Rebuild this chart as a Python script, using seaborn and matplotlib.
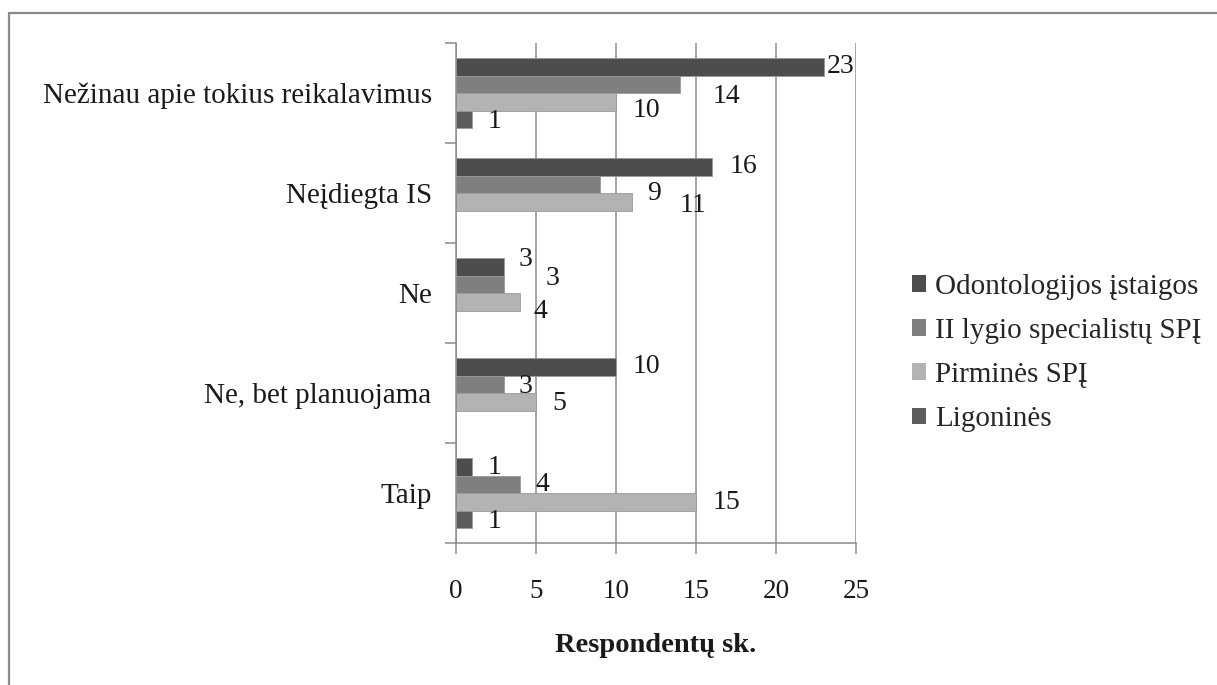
import numpy as np
import pandas as pd
import matplotlib
matplotlib.use("Agg")
import matplotlib.pyplot as plt
from matplotlib.lines import Line2D
from matplotlib.patches import Patch
import seaborn as sns

# ---- data ----
categories = ["Nežinau apie tokius reikalavimus", "Neįdiegta IS", "Ne",
              "Ne, bet planuojama", "Taip"]
series = ["Odontologijos įstaigos", "II lygio specialistų SPĮ",
          "Pirminės SPĮ", "Ligoninės"]
odontologijos = [23, 16, 3, 10, 1]
ii_lygio = [14, 9, 3, 3, 4]
pirmines = [10, 11, 4, 5, 15]
ligonines = [1, None, None, None, 1]
x_ticks = [0, 5, 10, 15, 20, 25]
x_title = "Respondentų sk."

values = [odontologijos, ii_lygio, pirmines, ligonines]
colors = ["#4d4d4d", "#7f7f7f", "#b3b3b3", "#5c5c5c"]

# label placement (pixels: gap after bar end, downward shift), per series/category
label_nudge = [
    [(3, 0), (18, 0), (15, -7), (17, 0), (16, 1)],
    [(33, 12), (47, 9), (42, -6), (15, 2), (15, 0)],
    [(17, 9), (48, 4), (13, 10), (16, 2), (17, 1)],
    [(16, 2), (0, 0), (0, 0), (0, 0), (16, 2)],
]

rows = []
for s, vals in zip(series, values):
    for c, v in zip(categories, vals):
        rows.append({"category": c, "series": s,
                     "value": np.nan if v is None else v})
df = pd.DataFrame(rows)

sns.set_theme(style="white")
plt.rcParams["font.family"] = ["Liberation Serif", "DejaVu Serif"]
FS = 21          # category and legend text
FS_TITLE = 20.5  # axis title
FS_TICK = 19.5   # numeric axis ticks
FS_VAL = 20      # bar value labels
TXT = "#1a1a1a"
GRID = "#8c8c8c"

W, H = 1217, 685
fig = plt.figure(figsize=(W / 100, H / 100), dpi=100)
ax = fig.add_axes([456 / W, 1 - 543 / H, 400 / W, 500 / H])

sns.barplot(data=df, y="category", x="value", hue="series",
            order=categories, hue_order=series, palette=colors,
            orient="h", width=0.7, dodge=True, saturation=1,
            errorbar=None, ax=ax, legend=False,
            edgecolor="#9a9a9a", linewidth=0.6)

ax.set_xlim(0, 25)
ax.set_ylim(len(categories) - 0.5, -0.5)

# vertical grid
ax.set_xticks(x_ticks)
ax.set_xticklabels([str(t) for t in x_ticks], fontsize=FS_TICK, color=TXT)
ax.xaxis.grid(True, color=GRID, linewidth=1.1)
ax.set_axisbelow(True)
ax.tick_params(axis="x", direction="out", length=8, width=1.1,
               color=GRID, pad=18, bottom=True)

# category boundaries get tick marks, centres get labels
bounds = np.arange(-0.5, len(categories), 1.0)
ax.set_yticks(bounds)
ax.set_yticklabels([""] * len(bounds))
ax.set_yticks(np.arange(len(categories)), minor=True)
ax.set_yticklabels(categories, minor=True, fontsize=FS, color=TXT)
ax.tick_params(axis="y", which="major", direction="out", length=8,
               width=1.1, color=GRID, left=True)
ax.tick_params(axis="y", which="minor", length=0, pad=17.5)

for side in ["top", "right"]:
    ax.spines[side].set_visible(False)
for side in ["left", "bottom"]:
    ax.spines[side].set_color(GRID)
    ax.spines[side].set_linewidth(1.1)

ax.set_xlabel("")
ax.set_ylabel("")

# value labels
for si, cont in enumerate(ax.containers):
    for bar in cont:
        w = bar.get_width()
        if not np.isfinite(w) or w == 0:
            continue
        yc = bar.get_y() + bar.get_height() / 2
        ci = int(round(yc))
        dx, dy = label_nudge[si][ci]
        ax.annotate(f"{w:g}", xy=(w, yc), xytext=(dx, -dy),
                    textcoords="offset pixels", ha="left", va="center",
                    fontsize=FS_VAL, color=TXT, annotation_clip=False)

fig.text(656 / W, 1 - 645 / H, x_title, ha="center", va="center",
         fontsize=FS_TITLE, fontweight="bold", color=TXT)

handles = [Patch(facecolor=c, edgecolor="none") for c in colors]
fig.legend(handles, series, loc="center left",
           bbox_to_anchor=(912 / W, 1 - 353 / H), frameon=False,
           fontsize=FS, handlelength=0.49, handleheight=0.49,
           handletextpad=0.3, labelspacing=0.62, borderpad=0,
           borderaxespad=0)

# outer frame lines
fig.add_artist(Line2D([9 / W, 1.0], [1 - 13 / H, 1 - 13 / H],
                      transform=fig.transFigure, color="#8a8a8a", lw=1.6))
fig.add_artist(Line2D([9 / W, 9 / W], [0.0, 1 - 13 / H],
                      transform=fig.transFigure, color="#8a8a8a", lw=1.6))

fig.savefig("out.png", dpi=100, facecolor="white")
